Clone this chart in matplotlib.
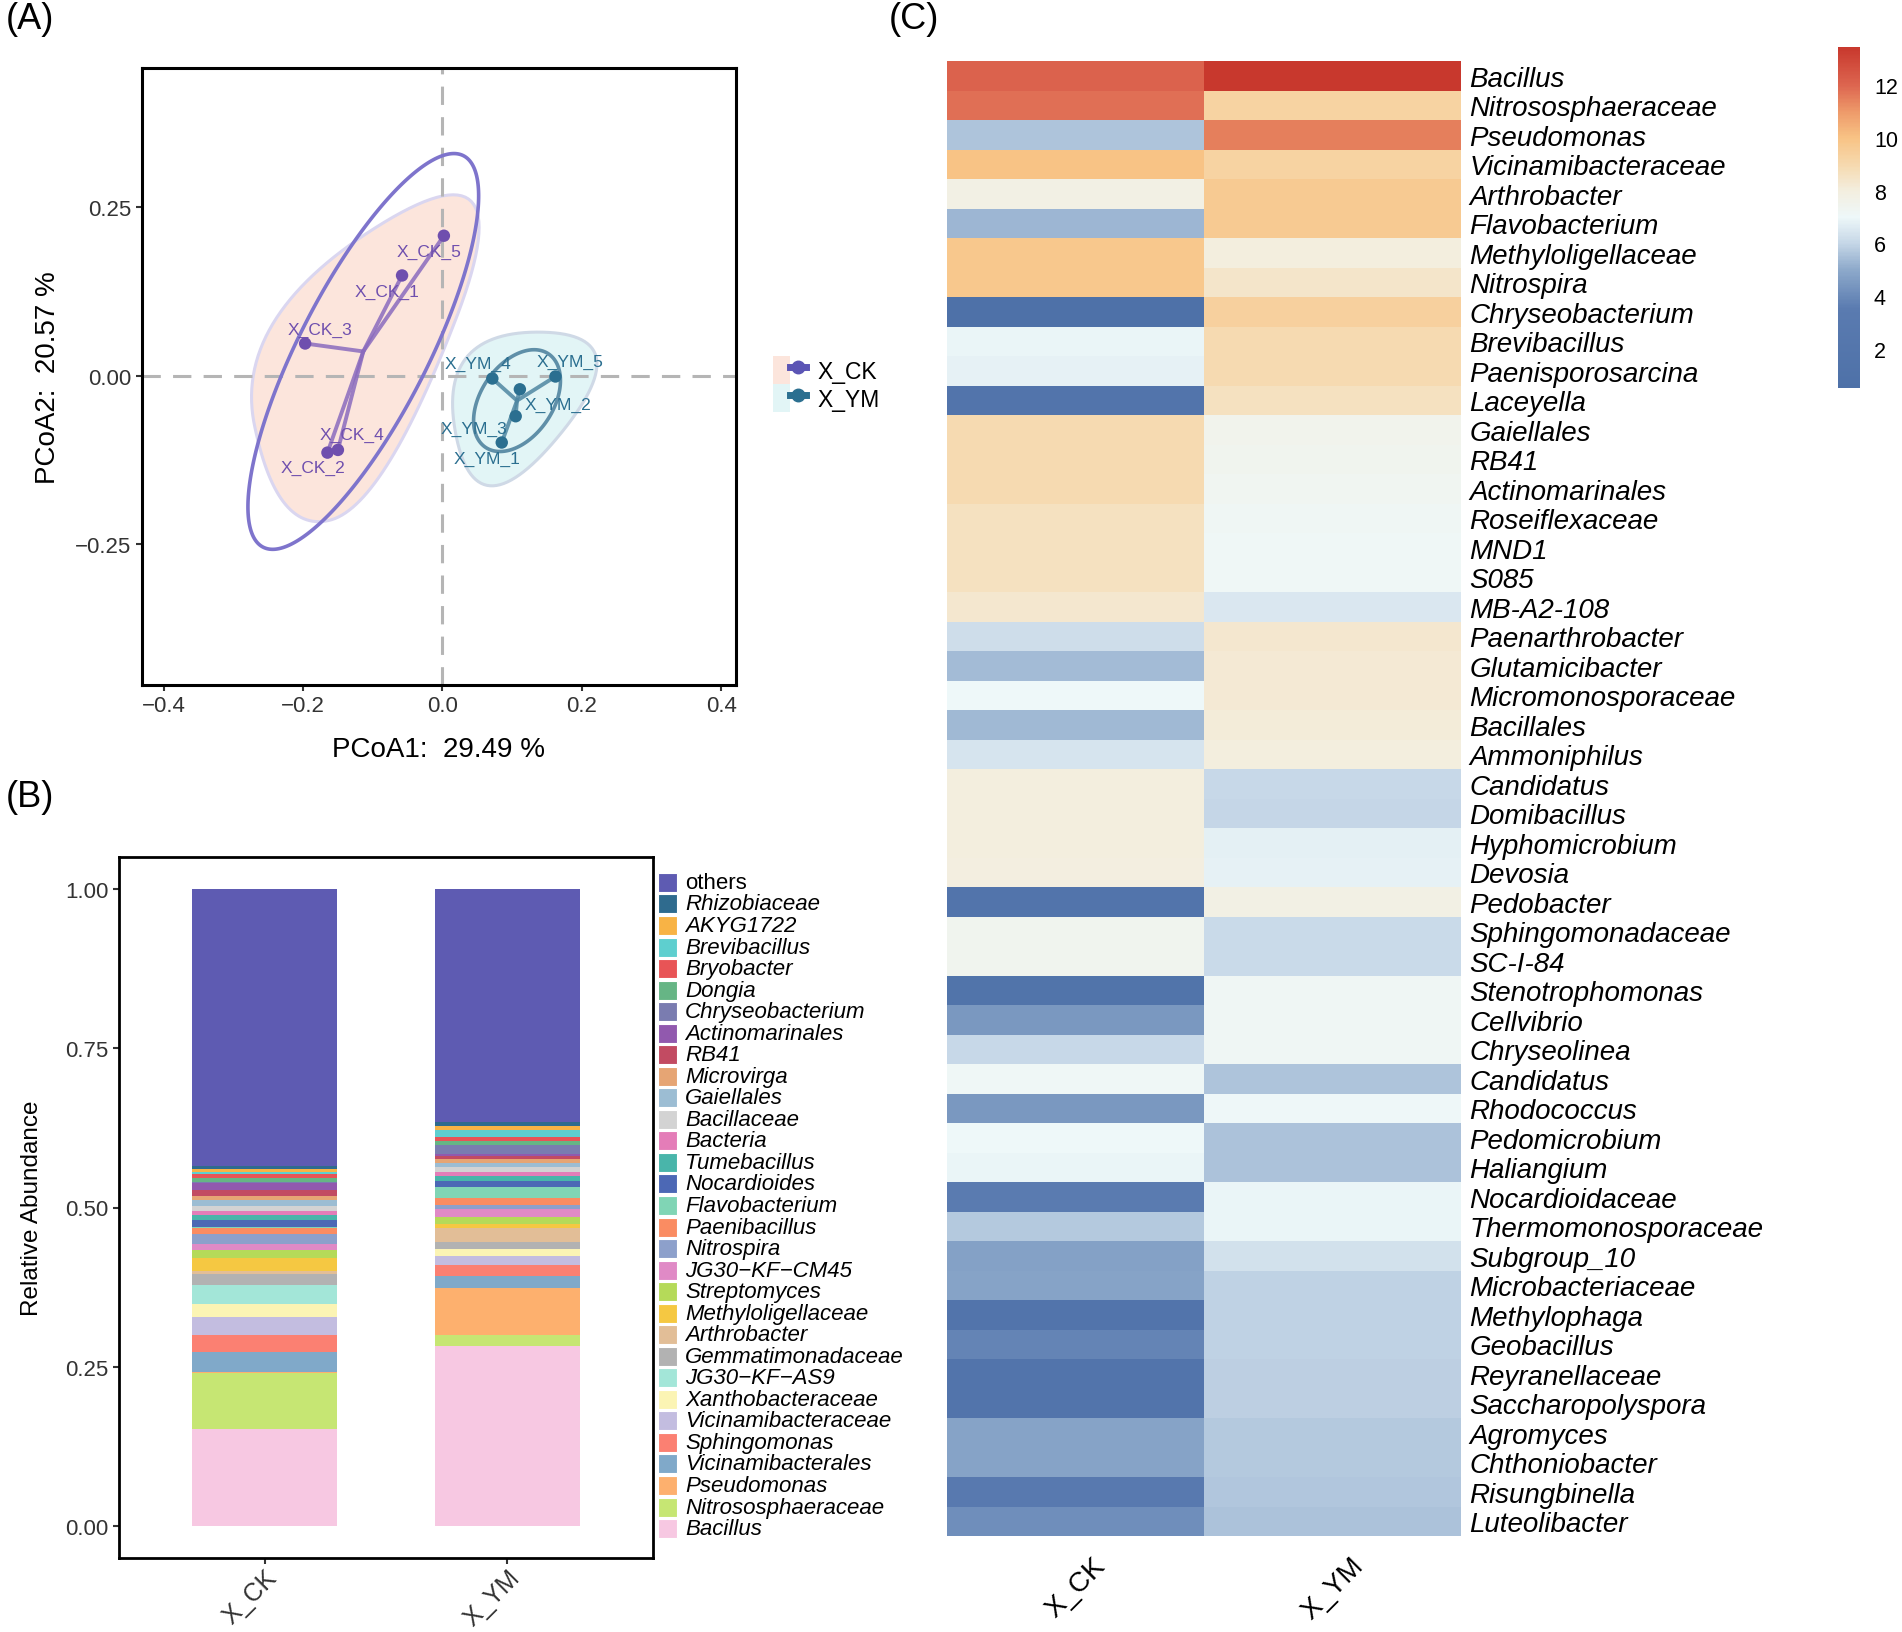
import numpy as np
import matplotlib
matplotlib.use("Agg")
import matplotlib.pyplot as plt
from matplotlib.colors import LinearSegmentedColormap, Normalize
from matplotlib.patches import Rectangle, Polygon, Patch
from matplotlib.lines import Line2D
from matplotlib.legend_handler import HandlerTuple

plt.rcParams['font.family'] = ['Liberation Sans', 'DejaVu Sans']

# ---------------- (A) PCoA data ----------------
CK_NAMES = ["X_CK_1", "X_CK_2", "X_CK_3", "X_CK_4", "X_CK_5"]
CK_PC1 = [-0.058, -0.165, -0.197, -0.150, 0.002]
CK_PC2 = [0.149, -0.114, 0.048, -0.110, 0.208]
YM_NAMES = ["X_YM_1", "X_YM_2", "X_YM_3", "X_YM_4", "X_YM_5"]
YM_PC1 = [0.085, 0.111, 0.105, 0.0715, 0.162]
YM_PC2 = [-0.099, -0.020, -0.060, -0.004, -0.001]
PC1_LABEL = "PCoA1:  29.49 %"
PC2_LABEL = "PCoA2:  20.57 %"
GROUPS = ["X_CK", "X_YM"]

# label offsets in pixels (dx, dy up), mimic ggrepel placement
CK_LAB_OFF = [(-15, -16), (-14, -15), (15, 14), (14, 15), (-15, -16)]
YM_LAB_OFF = [(-15, -16), (38, -15), (-42, -12), (-14, 15), (15, 15)]

# ---------------- (B) stacked bars ----------------
SAMPLES = ["X_CK", "X_YM"]
TAXA = ["Bacillus", "Nitrososphaeraceae", "Pseudomonas", "Vicinamibacterales",
        "Sphingomonas", "Vicinamibacteraceae", "Xanthobacteraceae", "JG30\u2212KF\u2212AS9",
        "Gemmatimonadaceae", "Arthrobacter", "Methyloligellaceae", "Streptomyces",
        "JG30\u2212KF\u2212CM45", "Nitrospira", "Paenibacillus", "Flavobacterium",
        "Nocardioides", "Tumebacillus", "Bacteria", "Bacillaceae", "Gaiellales",
        "Microvirga", "RB41", "Actinomarinales", "Chryseobacterium", "Dongia",
        "Bryobacter", "Brevibacillus", "AKYG1722", "Rhizobiaceae", "others"]
CK_ABUND = [0.1523, 0.088, 0.001, 0.0313, 0.0271, 0.0287, 0.0198, 0.0297, 0.0183,
            0.0037, 0.0209, 0.012, 0.0104, 0.0157, 0.0094, 0.001, 0.0104, 0.0078,
            0.0073, 0.0073, 0.0089, 0.0078, 0.0094, 0.0104, 0.001, 0.0073, 0.0052,
            0.003, 0.0052, 0.0052, 0.4347]
YM_ABUND = [0.2831, 0.0167, 0.0731, 0.0198, 0.0167, 0.0146, 0.0104, 0.001, 0.0104,
            0.0219, 0.0057, 0.0115, 0.013, 0.0063, 0.0104, 0.0183, 0.0089, 0.0073,
            0.0073, 0.0073, 0.0063, 0.0063, 0.0052, 0.0026, 0.0146, 0.0063, 0.0063,
            0.0104, 0.0068, 0.0063, 0.3652]
TAXA_COLORS = ["#F7C8E2", "#C6E673", "#FDB06E", "#80A9C9", "#FB8072", "#C3BDE0",
               "#FBF4B4", "#A3E6D8", "#B2B2B2", "#E2BE97", "#F5C842", "#B5DA59",
               "#E08AC6", "#8DA0CB", "#FA8C62", "#80D5B5", "#4C68B5", "#49B5AA",
               "#E47DB8", "#D3D3D3", "#9CBDD3", "#E6A574", "#C24B62", "#9159AE",
               "#7A7CB0", "#66B585", "#E85456", "#5ECFCF", "#F8B345", "#2F6B8E",
               "#5E5BB2"]

# ---------------- (C) heatmap ----------------
HM_ROWS = ["Bacillus", "Nitrososphaeraceae", "Pseudomonas", "Vicinamibacteraceae",
           "Arthrobacter", "Flavobacterium", "Methyloligellaceae", "Nitrospira",
           "Chryseobacterium", "Brevibacillus", "Paenisporosarcina", "Laceyella",
           "Gaiellales", "RB41", "Actinomarinales", "Roseiflexaceae", "MND1", "S085",
           "MB-A2-108", "Paenarthrobacter", "Glutamicibacter", "Micromonosporaceae",
           "Bacillales", "Ammoniphilus", "Candidatus", "Domibacillus", "Hyphomicrobium",
           "Devosia", "Pedobacter", "Sphingomonadaceae", "SC-I-84", "Stenotrophomonas",
           "Cellvibrio", "Chryseolinea", "Candidatus", "Rhodococcus", "Pedomicrobium",
           "Haliangium", "Nocardioidaceae", "Thermomonosporaceae", "Subgroup_10",
           "Microbacteriaceae", "Methylophaga", "Geobacillus", "Reyranellaceae",
           "Saccharopolyspora", "Agromyces", "Chthoniobacter", "Risungbinella",
           "Luteolibacter"]
HM_CK = [12.1, 11.8, 5.6, 10.0, 7.8, 5.3, 9.8, 9.8, 0.5, 6.9, 6.8, 1.5, 8.9, 8.9, 8.9,
         8.6, 8.6, 8.6, 8.3, 6.2, 5.4, 7.0, 5.35, 6.4, 8.0, 8.0, 8.0, 7.95, 1.5, 7.4,
         7.4, 1.4, 4.4, 6.05, 7.1, 4.4, 7.0, 6.9, 3.5, 5.7, 4.7, 4.75, 1.5, 3.8, 1.5,
         1.5, 4.75, 4.75, 3.0, 4.1]
HM_YM = [13.45, 9.3, 11.5, 9.3, 9.7, 9.7, 8.0, 8.4, 9.4, 8.9, 8.9, 8.6, 7.5, 7.4, 7.3,
         7.2, 7.1, 7.1, 6.5, 8.3, 8.2, 8.2, 8.1, 8.0, 6.05, 6.0, 6.75, 6.8, 7.8, 6.1,
         6.1, 7.2, 7.2, 7.2, 5.6, 7.05, 5.55, 5.55, 6.9, 6.9, 6.3, 5.9, 5.9, 5.9, 5.85,
         5.85, 5.7, 5.7, 5.65, 5.55]
CBAR_TICKS = [2, 4, 6, 8, 10, 12]

# colour ramp anchors (value, colour)
RAMP = [(0.5, "#4e71a8"), (3.5, "#5a7bb0"), (5.0, "#8eaacb"), (6.0, "#c6d7e7"),
        (7.0, "#eef8f9"), (8.0, "#f3eedf"), (9.0, "#f6d9ae"), (10.0, "#f8c385"),
        (11.0, "#ee9a6a"), (12.0, "#dd6650"), (13.5, "#c8382d")]

# styling
CK_COL = "#6F4FAE"
YM_COL = "#2B6F90"
CK_FILL = "#FCE5DC"
YM_FILL = "#E2F5F6"
TICK_COL = "#333333"
W, H, DPI = 1902, 1633, 100


def fig_rect(left, top, right, bottom):
    return [left / W, 1 - bottom / H, (right - left) / W, (bottom - top) / H]


def convex_hull(pts):
    pts = sorted(map(tuple, pts))

    def cross(o, a, b):
        return (a[0] - o[0]) * (b[1] - o[1]) - (a[1] - o[1]) * (b[0] - o[0])
    lower, upper = [], []
    for p in pts:
        while len(lower) >= 2 and cross(lower[-2], lower[-1], p) <= 0:
            lower.pop()
        lower.append(p)
    for p in reversed(pts):
        while len(upper) >= 2 and cross(upper[-2], upper[-1], p) <= 0:
            upper.pop()
        upper.append(p)
    return np.array(lower[:-1] + upper[:-1])


def smooth_hull(ax, xs, ys, pad=50, cap=2.0, iters=5):
    # work in pixel space: expand hull outward, then round with Chaikin
    pix = ax.transData.transform(np.column_stack([xs, ys]))
    hull = convex_hull(pix)
    n = len(hull)
    out = []
    for i in range(n):
        p0, p1, p2 = hull[i - 1], hull[i], hull[(i + 1) % n]
        d1 = (p1 - p0) / np.linalg.norm(p1 - p0)
        d2 = (p2 - p1) / np.linalg.norm(p2 - p1)
        n1 = np.array([d1[1], -d1[0]])
        n2 = np.array([d2[1], -d2[0]])
        b = n1 + n2
        b = b / np.linalg.norm(b)
        length = min(pad / max(np.dot(b, n1), 1e-6), cap * pad)
        out.append(p1 + b * length)
    poly = np.array(out)
    for _ in range(iters):
        nxt = np.roll(poly, -1, axis=0)
        q = 0.75 * poly + 0.25 * nxt
        r = 0.25 * poly + 0.75 * nxt
        poly = np.empty((2 * len(poly), 2))
        poly[0::2] = q
        poly[1::2] = r
    return ax.transData.inverted().transform(poly)


def ellipse_xy(xs, ys, scale, n=300):
    c = np.cov(xs, ys)
    L = np.linalg.cholesky(c)
    t = np.linspace(0, 2 * np.pi, n, endpoint=False)
    e = L @ np.vstack([np.cos(t), np.sin(t)]) * scale
    return np.column_stack([np.mean(xs) + e[0], np.mean(ys) + e[1]])


fig = plt.figure(figsize=(W / DPI, H / DPI), dpi=DPI)

# ======================= (A) =======================
axA = fig.add_axes(fig_rect(142, 69, 736, 686))
axA.set_xlim(-0.431, 0.421)
axA.set_ylim(-0.459, 0.457)

groups = [
    (CK_NAMES, CK_PC1, CK_PC2, CK_COL, CK_FILL, "#DAD6F0", "#7E74CC", 2.0, CK_LAB_OFF, "#8A6BBE", 66),
    (YM_NAMES, YM_PC1, YM_PC2, YM_COL, YM_FILL, "#CFD9E6", "#5F8FA8", 1.8, YM_LAB_OFF, "#4F87A2", 49),
]
for names, xs, ys, col, fill, edge, ecol, escale, offs, scol, pad in groups:
    hull = smooth_hull(axA, np.array(xs), np.array(ys), pad=pad)
    axA.add_patch(Polygon(hull, closed=True, facecolor=fill, edgecolor=edge,
                          lw=2.2, zorder=1))

axA.axhline(0, color="#B5B5B5", lw=2.2, ls=(0, (6, 4)), zorder=2)
axA.axvline(0, color="#B5B5B5", lw=2.2, ls=(0, (6, 4)), zorder=2)

for names, xs, ys, col, fill, edge, ecol, escale, offs, scol, pad in groups:
    xs = np.array(xs)
    ys = np.array(ys)
    axA.add_patch(Polygon(ellipse_xy(xs, ys, escale), closed=True, fill=False,
                          edgecolor=ecol, lw=2.6, zorder=3))
    cx, cy = xs.mean(), ys.mean()
    for x, y in zip(xs, ys):
        axA.plot([cx, x], [cy, y], color=scol, lw=2.8, alpha=0.85, zorder=4,
                 solid_capstyle="round")
    axA.scatter(xs, ys, s=80, color=col, zorder=5, edgecolors="none")
    for name, x, y, (dx, dy) in zip(names, xs, ys, offs):
        axA.annotate(name, (x, y), xytext=(dx, dy), textcoords="offset pixels",
                     ha="center", va="center", fontsize=12.5, color=col, zorder=6)

axA.set_xticks([-0.4, -0.2, 0.0, 0.2, 0.4])
axA.set_xticklabels(["\u22120.4", "\u22120.2", "0.0", "0.2", "0.4"])
axA.set_yticks([-0.25, 0.0, 0.25])
axA.set_yticklabels(["\u22120.25", "0.00", "0.25"])
axA.tick_params(labelsize=16, colors=TICK_COL, length=4, width=1.5)
for s in axA.spines.values():
    s.set_linewidth(2.2)
axA.set_xlabel(PC1_LABEL, fontsize=20, labelpad=14)
axA.set_ylabel(PC2_LABEL, fontsize=20, labelpad=10)

handles = [
    (Patch(facecolor=CK_FILL, edgecolor="none"),
     Line2D([], [], color="#5B55B5", lw=5, marker="o", ms=9)),
    (Patch(facecolor=YM_FILL, edgecolor="none"),
     Line2D([], [], color=YM_COL, lw=5, marker="o", ms=9)),
]
fig.legend(handles, GROUPS, loc="center left",
           bbox_to_anchor=(762 / W, 1 - 385 / H), frameon=False, fontsize=16.5,
           handler_map={tuple: HandlerTuple(ndivide=None)}, handlelength=1.4,
           handleheight=1.5, labelspacing=0.0, handletextpad=0.5, borderpad=0)

# ======================= (B) =======================
axB = fig.add_axes(fig_rect(119, 858, 653, 1559))
xpos = np.arange(1, len(SAMPLES) + 1)
bottoms = np.zeros(len(SAMPLES))
for taxon, ck, ym, c in zip(TAXA, CK_ABUND, YM_ABUND, TAXA_COLORS):
    vals = np.array([ck, ym])
    axB.bar(xpos, vals, width=0.6, bottom=bottoms, color=c, edgecolor="none")
    bottoms += vals
axB.set_xlim(0.4, 2.6)
axB.set_ylim(-0.05, 1.05)
axB.set_yticks([0, 0.25, 0.5, 0.75, 1.0])
axB.set_yticklabels(["0.00", "0.25", "0.50", "0.75", "1.00"])
axB.set_xticks(xpos)
axB.set_xticklabels(SAMPLES, rotation=45, ha="right", va="top",
                    rotation_mode="anchor")
axB.tick_params(labelsize=16, colors=TICK_COL, length=4, width=1.5)
axB.tick_params(axis="x", labelsize=18, pad=1)
for s in axB.spines.values():
    s.set_linewidth(2.0)
axB.set_ylabel("Relative Abundance", fontsize=17.5, labelpad=16)

# legend for B (top: others ... bottom: Bacillus)
leg_items = list(zip(TAXA, TAXA_COLORS))[::-1]
y0, step = 883.4, 21.54
for i, (name, c) in enumerate(leg_items):
    yc = y0 + i * step
    fig.patches.append(Rectangle((658 / W, 1 - (yc + 9.5) / H), 19 / W, 19 / H,
                                 transform=fig.transFigure, facecolor=c,
                                 edgecolor="white", lw=0.8))
    fig.text(685 / W, 1 - yc / H, name, fontsize=16, va="center", ha="left",
             style="normal" if name == "others" else "italic")

# ======================= (C) =======================
axC = fig.add_axes(fig_rect(947, 62, 1461, 1537))
mat = np.column_stack([HM_CK, HM_YM])
vmin, vmax = mat.min(), mat.max()
pos = [min(max((v - vmin) / (vmax - vmin), 0), 1) for v, _ in RAMP]
pos[0], pos[-1] = 0.0, 1.0
cmap = LinearSegmentedColormap.from_list("ramp", list(zip(pos, [c for _, c in RAMP])))
norm = Normalize(vmin=vmin, vmax=vmax)
mesh = axC.pcolormesh(np.arange(3), np.arange(len(HM_ROWS) + 1), mat,
                      cmap=cmap, norm=norm, shading="flat")
axC.set_ylim(len(HM_ROWS), 0)
axC.set_xlim(0, 2)
for s in axC.spines.values():
    s.set_visible(False)
axC.yaxis.tick_right()
axC.set_yticks(np.arange(len(HM_ROWS)) + 0.5)
axC.set_yticklabels(HM_ROWS, fontsize=20, style="italic")
axC.set_xticks([0.5, 1.5])
axC.set_xticklabels(SAMPLES, rotation=45, fontsize=20, ha="center", va="top")
axC.tick_params(length=0, pad=6)
axC.tick_params(axis="x", pad=12)

cax = fig.add_axes(fig_rect(1838, 48, 1860, 389))
cb = fig.colorbar(mesh, cax=cax, ticks=CBAR_TICKS)
cb.outline.set_visible(False)
cb.ax.tick_params(length=0, labelsize=15.5, pad=10)

# panel tags
fig.text(6 / W, 1 - 2 / H, "(A)", fontsize=26, va="top", ha="left")
fig.text(6 / W, 1 - 780 / H, "(B)", fontsize=26, va="top", ha="left")
fig.text(889 / W, 1 - 2 / H, "(C)", fontsize=26, va="top", ha="left")

fig.savefig("out.png", dpi=DPI)
